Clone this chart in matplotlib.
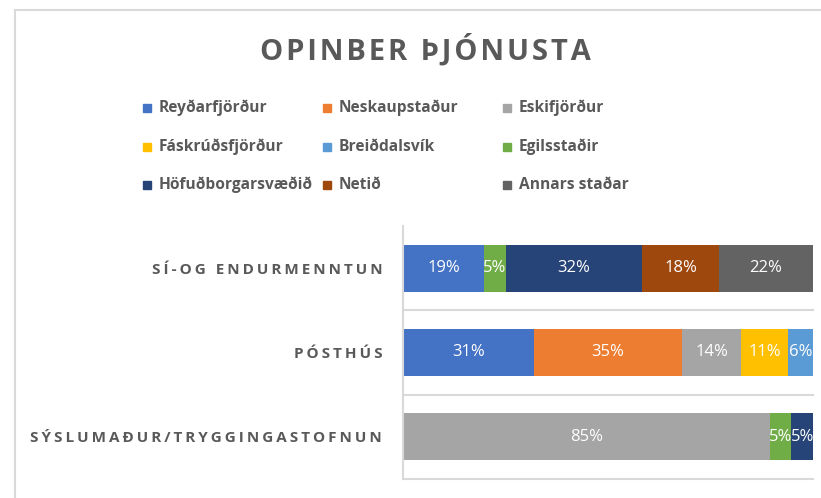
import numpy as np
import matplotlib.pyplot as plt
from matplotlib.lines import Line2D
from matplotlib.patches import Rectangle

# categories, top row first
categories = ['SÍ-OG ENDURMENNTUN', 'PÓSTHÚS', 'SÝSLUMAÐUR/TRYGGINGASTOFNUN']

places = ['Reyðarfjörður', 'Neskaupstaður', 'Eskifjörður',
          'Fáskrúðsfjörður', 'Breiðdalsvík', 'Egilsstaðir',
          'Höfuðborgarsvæðið', 'Netið', 'Annars staðar']
colors = ['#4472C4', '#ED7D31', '#A5A5A5',
          '#FFC000', '#5B9BD5', '#70AD47',
          '#264478', '#9E480E', '#636363']

# share (%) per category for each place
reydarfjordur = [19, 31, 0]
neskaupstadur = [0, 35, 0]
eskifjordur = [0, 14, 85]
faskrudsfjordur = [0, 11, 0]
breiddalsvik = [0, 6, 0]
egilsstadir = [5, 0, 5]
hofudborgarsvaedid = [32, 0, 5]
netid = [18, 0, 0]
annars_stadar = [22, 0, 0]

series = [reydarfjordur, neskaupstadur, eskifjordur,
          faskrudsfjordur, breiddalsvik, egilsstadir,
          hofudborgarsvaedid, netid, annars_stadar]

GRAY = '#595959'
LINE = '#D9D9D9'
FONT = ['Open Sans', 'DejaVu Sans']


def spaced(s, gap='\u2009'):
    return gap.join(s)


W, H = 821, 498
fig = plt.figure(figsize=(W / 100, H / 100), dpi=100)
ax = fig.add_axes([403 / W, 1 - 479 / H, 410 / W, 253 / H])

y = np.arange(len(categories))
data = np.array(series, dtype=float)
totals = data.sum(axis=0)
left = np.zeros(len(categories))
for name, vals, col in zip(places, data, colors):
    w = vals / totals
    ax.barh(y, w, left=left, height=0.56, color=col, label=name, zorder=2)
    for yi, v, l, wi in zip(y, vals, left, w):
        if v > 0:
            ax.text(l + wi / 2, yi, f'{v:.0f}%', ha='center', va='center',
                    color='white', fontsize=12, family=FONT, zorder=3)
    left += w

ax.set_xlim(0, 1)
ax.set_ylim(2.5, -0.5)
for b in [0.5, 1.5, 2.5]:
    ax.axhline(b, color=LINE, lw=1.5, zorder=1, clip_on=False)

ax.set_xticks([])
ax.set_yticks(y)
ax.set_yticklabels([spaced(c) for c in categories], fontsize=11,
                   fontweight='bold', color=GRAY, family=FONT)
ax.tick_params(axis='y', length=0, pad=15)
for s in ['top', 'right', 'bottom']:
    ax.spines[s].set_visible(False)
ax.spines['left'].set_color(LINE)
ax.spines['left'].set_linewidth(1.5)

# chart frame
fig.add_artist(Line2D([15 / W, 15 / W], [0, 1 - 10 / H],
                      transform=fig.transFigure, color=LINE, lw=1.5))
fig.add_artist(Line2D([15 / W, 1], [1 - 10 / H, 1 - 10 / H],
                      transform=fig.transFigure, color=LINE, lw=1.5))

fig.text(425 / W, 1 - 50 / H, spaced('OPINBER ÞJÓNUSTA', '\u200a'),
         ha='center', va='center', fontsize=21, fontweight='bold',
         color=GRAY, family=FONT)

# legend, three columns filled row by row
col_x = [143, 323, 503]
row_y = [108, 147, 185]
for i, (name, col) in enumerate(zip(places, colors)):
    x0 = col_x[i % 3]
    y0 = row_y[i // 3]
    fig.add_artist(Rectangle((x0 / W, 1 - (y0 + 4) / H), 8 / W, 8 / H,
                             transform=fig.transFigure, color=col))
    fig.text((x0 + 16) / W, 1 - y0 / H, name, ha='left', va='center',
             fontsize=11.2, fontweight='bold', color=GRAY, family=FONT)

fig.savefig('out.png', dpi=100)
